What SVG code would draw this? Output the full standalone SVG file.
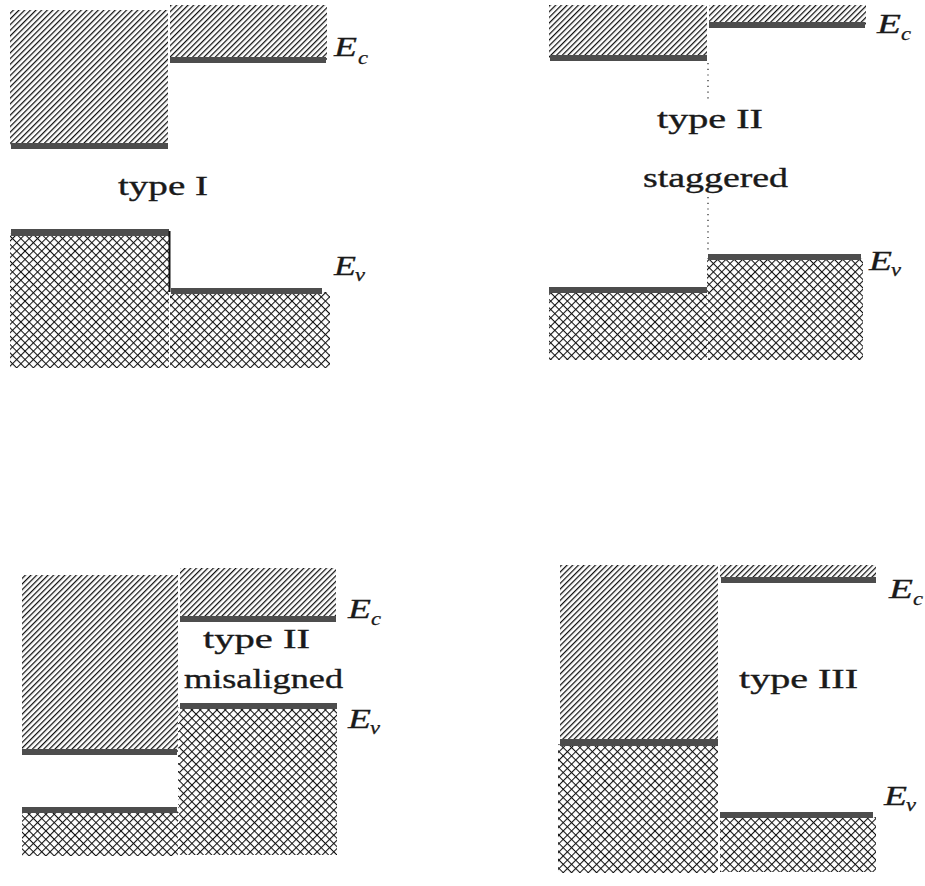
<svg xmlns="http://www.w3.org/2000/svg" width="925" height="886" viewBox="0 0 925 886">
  <defs>
    <!-- conduction band fill: single diagonal hatch -->
    <pattern id="hatch" patternUnits="userSpaceOnUse" width="4" height="4" patternTransform="rotate(-45)">
      <rect x="0" y="0" width="4" height="1.25" fill="#111"/>
    </pattern>
    <!-- valence band fill: diagonal cross-hatch -->
    <pattern id="cross" patternUnits="userSpaceOnUse" width="5.9" height="5.9" patternTransform="rotate(45)">
      <rect x="0" y="0" width="5.9" height="1.05" fill="#111"/>
      <rect x="0" y="0" width="1.05" height="5.9" fill="#111"/>
    </pattern>
    <style>
      .cb { fill: url(#hatch); }
      .vb { fill: url(#cross); }
      .edge { fill: #4d4d4d; }
      .lbl { font-family: "Liberation Serif", "DejaVu Serif", serif; font-size: 27px; fill: #1a1a1a; stroke: #1a1a1a; stroke-width: 0.35; }
      .E { font-family: "Liberation Serif", "DejaVu Serif", serif; font-style: italic; font-size: 28px; fill: #1a1a1a; stroke: #1a1a1a; stroke-width: 0.3; }
      .sub { font-family: "Liberation Serif", "DejaVu Serif", serif; font-style: italic; font-size: 19px; fill: #1a1a1a; stroke: #1a1a1a; stroke-width: 0.25; }
      .seam { stroke: #fff; stroke-width: 1.2; stroke-dasharray: 2 2; fill: none; }
      .dots { stroke: #222; stroke-width: 1.2; stroke-dasharray: 1.2 4.5; fill: none; }
    </style>
  </defs>

  <rect width="925" height="886" fill="#fff"/>

  <!-- type I: straddling -->
  <g id="type-I">
    <rect class="cb" x="10" y="10" width="158" height="136"/>
    <rect class="cb" x="170" y="5" width="157" height="55"/>
    <rect class="edge" x="11" y="143" width="157" height="6"/>
    <rect class="edge" x="170" y="57" width="156" height="6"/>
    <rect class="vb" x="10" y="233" width="159" height="135"/>
    <rect class="vb" x="170" y="292" width="160" height="76"/>
    <rect class="edge" x="11" y="229" width="158" height="7"/>
    <rect class="edge" x="171" y="288" width="151" height="6"/>
    <line x1="169.5" y1="231" x2="169.5" y2="292" stroke="#111" stroke-width="2"/>
    <line class="seam" x1="169" y1="5" x2="169" y2="146"/>
    <line class="seam" x1="169.5" y1="294" x2="169.5" y2="368"/>
    <text class="lbl" x="118" y="195" textLength="90" lengthAdjust="spacingAndGlyphs">type I</text>
    <text class="E" x="334" y="56" textLength="23" lengthAdjust="spacingAndGlyphs">E</text>
    <text class="sub" x="358" y="64" textLength="10" lengthAdjust="spacingAndGlyphs">c</text>
    <text class="E" x="334" y="275" textLength="22" lengthAdjust="spacingAndGlyphs">E</text>
    <text class="sub" x="355" y="281" textLength="10" lengthAdjust="spacingAndGlyphs">v</text>
  </g>

  <!-- type II: staggered -->
  <g id="type-II-staggered">
    <rect class="cb" x="549" y="5" width="158" height="53"/>
    <rect class="cb" x="709" y="5" width="157" height="20"/>
    <rect class="edge" x="550" y="55" width="157" height="6"/>
    <rect class="edge" x="709" y="22" width="156" height="6"/>
    <rect class="vb" x="707" y="258" width="156" height="102"/>
    <rect class="vb" x="549" y="291" width="158" height="69"/>
    <rect class="edge" x="708" y="254" width="153" height="6"/>
    <rect class="edge" x="549" y="287" width="158" height="6"/>
    <line class="seam" x1="708" y1="5" x2="708" y2="22"/>
    <line class="seam" x1="707.5" y1="293" x2="707.5" y2="360"/>
    <text class="lbl" x="657" y="128" textLength="106" lengthAdjust="spacingAndGlyphs">type II</text>
    <text class="lbl" x="643" y="187" textLength="145" lengthAdjust="spacingAndGlyphs">staggered</text>
    <text class="E" x="877" y="33" textLength="24" lengthAdjust="spacingAndGlyphs">E</text>
    <text class="sub" x="901" y="40" textLength="10" lengthAdjust="spacingAndGlyphs">c</text>
    <text class="E" x="869" y="270" textLength="23" lengthAdjust="spacingAndGlyphs">E</text>
    <text class="sub" x="891" y="276" textLength="10" lengthAdjust="spacingAndGlyphs">v</text>
  </g>

  <!-- type II: misaligned -->
  <g id="type-II-misaligned">
    <rect class="cb" x="22" y="575" width="156" height="177"/>
    <rect class="cb" x="180" y="568" width="156" height="51"/>
    <rect class="edge" x="22" y="749" width="155" height="6"/>
    <rect class="edge" x="180" y="616" width="156" height="6"/>
    <rect class="vb" x="178" y="707" width="159" height="148"/>
    <rect class="vb" x="22" y="811" width="156" height="45"/>
    <rect class="edge" x="180" y="703" width="157" height="6"/>
    <rect class="edge" x="22" y="807" width="155" height="6"/>
    <line class="seam" x1="179" y1="568" x2="179" y2="752"/>
    <line class="seam" x1="178.5" y1="709" x2="178.5" y2="856"/>
    <text class="lbl" x="203" y="648" textLength="107" lengthAdjust="spacingAndGlyphs">type II</text>
    <text class="lbl" x="184" y="688" textLength="159" lengthAdjust="spacingAndGlyphs">misaligned</text>
    <text class="E" x="348" y="618" textLength="23" lengthAdjust="spacingAndGlyphs">E</text>
    <text class="sub" x="371" y="625" textLength="10" lengthAdjust="spacingAndGlyphs">c</text>
    <text class="E" x="348" y="728" textLength="23" lengthAdjust="spacingAndGlyphs">E</text>
    <text class="sub" x="370" y="734" textLength="10" lengthAdjust="spacingAndGlyphs">v</text>
  </g>

  <!-- type III: broken gap -->
  <g id="type-III">
    <rect class="cb" x="560" y="565" width="158" height="177"/>
    <rect class="vb" x="558" y="744" width="160" height="129"/>
    <rect class="edge" x="560" y="739" width="158" height="7"/>
    <rect class="cb" x="720" y="565" width="156" height="15"/>
    <rect class="edge" x="721" y="577" width="155" height="6"/>
    <rect class="vb" x="720" y="817" width="156" height="55"/>
    <rect class="edge" x="720" y="812" width="153" height="6"/>
    <line class="seam" x1="719" y1="565" x2="719" y2="873"/>
    <text class="lbl" x="739" y="688" textLength="119" lengthAdjust="spacingAndGlyphs">type III</text>
    <text class="E" x="889" y="598" textLength="24" lengthAdjust="spacingAndGlyphs">E</text>
    <text class="sub" x="913" y="605" textLength="10" lengthAdjust="spacingAndGlyphs">c</text>
    <text class="E" x="884" y="805" textLength="23" lengthAdjust="spacingAndGlyphs">E</text>
    <text class="sub" x="906" y="811" textLength="10" lengthAdjust="spacingAndGlyphs">v</text>
  </g>

  <!-- dotted interface guides -->
  <g id="connectors">
    <line class="dots" x1="708" y1="63" x2="708" y2="100"/>
    <line class="dots" x1="708" y1="197" x2="708" y2="254"/>
  </g>
</svg>
